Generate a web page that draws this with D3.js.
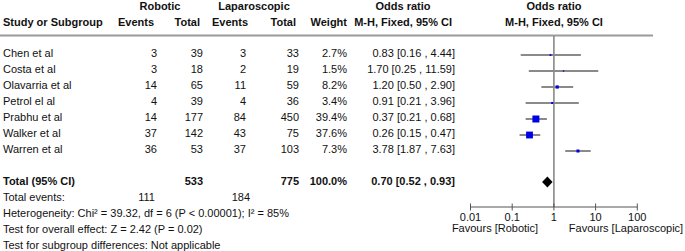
<!DOCTYPE html>
<html>
<head>
<meta charset="utf-8">
<script src="https://cdn.jsdelivr.net/npm/d3@7"></script>
<style>
  body { margin: 0; background: #fff; }
  svg text { font-family: "Liberation Sans", Arial, sans-serif; font-size: 11px; fill: #111; }
  .b { font-weight: bold; }
</style>
</head>
<body>
<div id="chart"></div>
<script>
// study rows
const studies = ["Chen et al", "Costa et al", "Olavarria et al", "Petrol el al", "Prabhu et al", "Walker et al", "Warren et al"];
const robEvents = [3, 3, 14, 4, 14, 37, 36];
const robTotal = [39, 18, 65, 39, 177, 142, 53];
const lapEvents = [3, 2, 11, 4, 84, 43, 37];
const lapTotal = [33, 19, 59, 36, 450, 75, 103];
const weights = [2.7, 1.5, 8.2, 3.4, 39.4, 37.6, 7.3];
const oddsRatio = [0.83, 1.70, 1.20, 0.91, 0.37, 0.26, 3.78];
const ciLow = [0.16, 0.25, 0.50, 0.21, 0.21, 0.15, 1.87];
const ciHigh = [4.44, 11.59, 2.90, 3.96, 0.68, 0.47, 7.63];

// pooled result
const pooled = [0.70, 0.52, 0.93]; // OR, low, high
const totalN = [533, 775];
const totalEvents = [111, 184];
const footnotes = [
  "Heterogeneity: Chi\u00b2 = 39.32, df = 6 (P < 0.00001); I\u00b2 = 85%",
  "Test for overall effect: Z = 2.42 (P = 0.02)",
  "Test for subgroup differences: Not applicable"
];
const axisTicks = [0.01, 0.1, 1, 10, 100];
const axisLabels = ["Favours [Robotic]", "Favours [Laparoscopic]"];

const W = 685, H = 251;
const svg = d3.select("#chart").append("svg").attr("width", W).attr("height", H);

const fmt2 = d3.format(".2f");
const ciText = (o, l, h) => `${fmt2(o)} [${fmt2(l)} , ${fmt2(h)}]`;

// row baselines
const rowY = d3.scaleLinear().domain([0, 1]).range([57, 73]);
const x = d3.scaleLog().domain([0.01, 100]).range([470.5, 637.3]);
const box = d3.scaleSqrt().domain([0, 39.4]).range([0, 7]);

// column right edges
const col = { ev1: 157, tot1: 203, ev2: 246, tot2: 299, wt: 347, ci: 455 };

// headers
const head = svg.append("g").attr("class", "b");
head.append("text").attr("x", 160).attr("y", 10).attr("text-anchor", "middle").attr("class", "b").text("Robotic");
head.append("text").attr("x", 254).attr("y", 10).attr("text-anchor", "middle").attr("class", "b").text("Laparoscopic");
head.append("text").attr("x", 403).attr("y", 10).attr("text-anchor", "middle").attr("class", "b").text("Odds ratio");
head.append("text").attr("x", 554).attr("y", 10).attr("text-anchor", "middle").attr("class", "b").text("Odds ratio");
const h2 = [["Study or Subgroup", 3, "start"], ["Events", col.ev1 - 3, "end"], ["Total", col.tot1 - 3, "end"],
            ["Events", col.ev2 + 2, "end"], ["Total", col.tot2 - 3, "end"], ["Weight", col.wt, "end"],
            ["M-H, Fixed, 95% CI", col.ci - 3, "end"]];
head.selectAll("text.h2").data(h2).enter().append("text")
  .attr("class", "h2 b")
  .attr("x", d => d[1]).attr("y", 26).attr("text-anchor", d => d[2]).text(d => d[0]);
head.append("text").attr("x", 554).attr("y", 26).attr("text-anchor", "middle").attr("class", "b").text("M-H, Fixed, 95% CI");

svg.append("line").attr("x1", 0).attr("x2", 653).attr("y1", 35.5).attr("y2", 35.5)
  .attr("stroke", "#9a9a9a").attr("stroke-width", 2);

// study rows text
const rows = svg.selectAll("g.row").data(studies).enter().append("g").attr("class", "row")
  .attr("transform", (d, i) => `translate(0,${rowY(i)})`);
rows.append("text").attr("x", 3).text(d => d);
const cells = [[robEvents, col.ev1], [robTotal, col.tot1], [lapEvents, col.ev2], [lapTotal, col.tot2]];
cells.forEach(([arr, cx]) => {
  rows.append("text").attr("x", cx).attr("text-anchor", "end").text((d, i) => arr[i]);
});
rows.append("text").attr("x", col.wt).attr("text-anchor", "end").text((d, i) => weights[i].toFixed(1) + "%");
rows.append("text").attr("x", col.ci).attr("text-anchor", "end").text((d, i) => ciText(oddsRatio[i], ciLow[i], ciHigh[i]));

// total row
const yTot = rowY(8);
svg.append("text").attr("class", "b").attr("x", 3).attr("y", yTot).text("Total (95% CI)");
svg.append("text").attr("class", "b").attr("x", col.tot1).attr("y", yTot).attr("text-anchor", "end").text(totalN[0]);
svg.append("text").attr("class", "b").attr("x", col.tot2).attr("y", yTot).attr("text-anchor", "end").text(totalN[1]);
svg.append("text").attr("class", "b").attr("x", col.wt).attr("y", yTot).attr("text-anchor", "end").text("100.0%");
svg.append("text").attr("class", "b").attr("x", col.ci).attr("y", yTot).attr("text-anchor", "end").text(ciText(...pooled));

svg.append("text").attr("x", 3).attr("y", rowY(9)).text("Total events:");
svg.append("text").attr("x", col.ev1 - 2).attr("y", rowY(9)).attr("text-anchor", "end").text(totalEvents[0]);
svg.append("text").attr("x", col.ev2 + 4).attr("y", rowY(9)).attr("text-anchor", "end").text(totalEvents[1]);
svg.selectAll("text.foot").data(footnotes).enter().append("text").attr("class", "foot")
  .attr("x", 3).attr("y", (d, i) => rowY(10 + i)).text(d => d);

// forest plot
const axisY = 207;
const plot = svg.append("g");
plot.append("line").attr("x1", x(1)).attr("x2", x(1)).attr("y1", 36).attr("y2", axisY)
  .attr("stroke", "#808080").attr("stroke-width", 1.5);

const pts = plot.selectAll("g.pt").data(studies).enter().append("g").attr("class", "pt")
  .attr("transform", (d, i) => `translate(0,${rowY(i) - 2})`);
pts.append("line")
  .attr("x1", (d, i) => x(ciLow[i])).attr("x2", (d, i) => x(ciHigh[i]))
  .attr("stroke", "#8a8a8a").attr("stroke-width", 2);
pts.append("rect")
  .attr("x", (d, i) => x(oddsRatio[i]) - box(weights[i]) / 2)
  .attr("y", (d, i) => -box(weights[i]) / 2)
  .attr("width", (d, i) => box(weights[i]))
  .attr("height", (d, i) => box(weights[i]))
  .attr("fill", "#0000e6");

const dy = yTot - 3;
plot.append("path")
  .attr("d", `M${x(pooled[1])},${dy} L${x(pooled[0])},${dy - 5.5} L${x(pooled[2])},${dy} L${x(pooled[0])},${dy + 5.5} Z`)
  .attr("fill", "#000");

// axis
const ax = plot.append("g").attr("transform", `translate(0,${axisY})`);
ax.append("line").attr("x1", x(0.01)).attr("x2", x(100)).attr("stroke", "#555").attr("stroke-width", 1);
ax.selectAll("line.tick").data(axisTicks).enter().append("line").attr("class", "tick")
  .attr("x1", d => x(d)).attr("x2", d => x(d)).attr("y1", -3.5).attr("y2", 3.5)
  .attr("stroke", "#555");
ax.selectAll("text.tl").data(axisTicks).enter().append("text").attr("class", "tl")
  .attr("x", d => x(d)).attr("y", 14).attr("text-anchor", "middle").text(d => d3.format("~g")(d));
ax.append("text").attr("x", 495).attr("y", 25).attr("text-anchor", "middle").text(axisLabels[0]);
ax.append("text").attr("x", 626).attr("y", 25).attr("text-anchor", "middle").text(axisLabels[1]);
</script>
</body>
</html>
